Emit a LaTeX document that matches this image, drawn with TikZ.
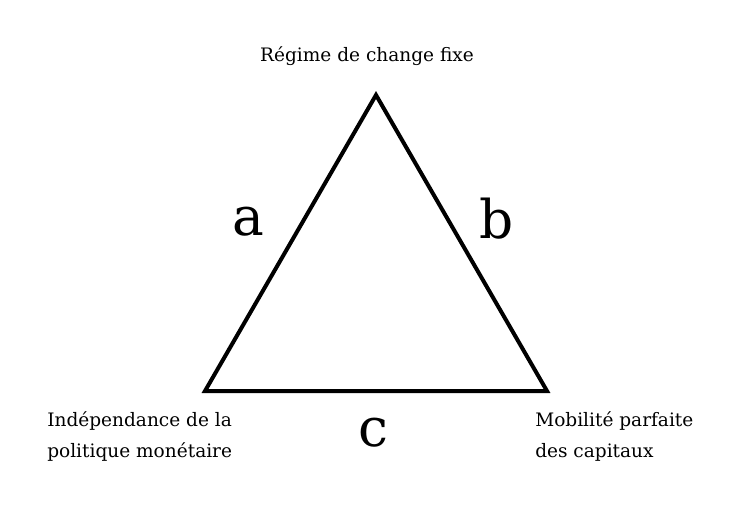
\documentclass[tikz,border=0pt]{standalone}
\usepackage{fontspec}
\setmainfont{DejaVu Serif}
\usetikzlibrary{positioning,calc}

\begin{document}
\begin{tikzpicture}[x=0.75pt, y=-0.75pt,
    corner/.style={font=\fontsize{13.9}{23.25}\selectfont, align=left, inner sep=0pt},
    side/.style={font=\fontsize{40}{40}\selectfont, inner sep=0pt}]
    \useasboundingbox (0,0) rectangle (749,510);

    % Triangle
    \coordinate (top) at (376,95);
    \coordinate (left) at (205,391);
    \coordinate (right) at (547,391);
    \draw[line width=3pt, line join=miter] (top) -- (left) -- (right) -- cycle;

    % Corners
    \node[corner] (fixe) at (367,56) {Régime de change fixe};
    \node[corner, anchor=west] (indep) at (47,437) {Indépendance de la\\politique monétaire};
    \node[corner, anchor=west] (mobil) at (535,437) {Mobilité parfaite\\des capitaux};

    % Sides
    \node[side] (a) at (248,222) {a};
    \node[side] (b) at (497,219) {b};
    \node[side] (c) at (373,433) {c};
\end{tikzpicture}
\end{document}
